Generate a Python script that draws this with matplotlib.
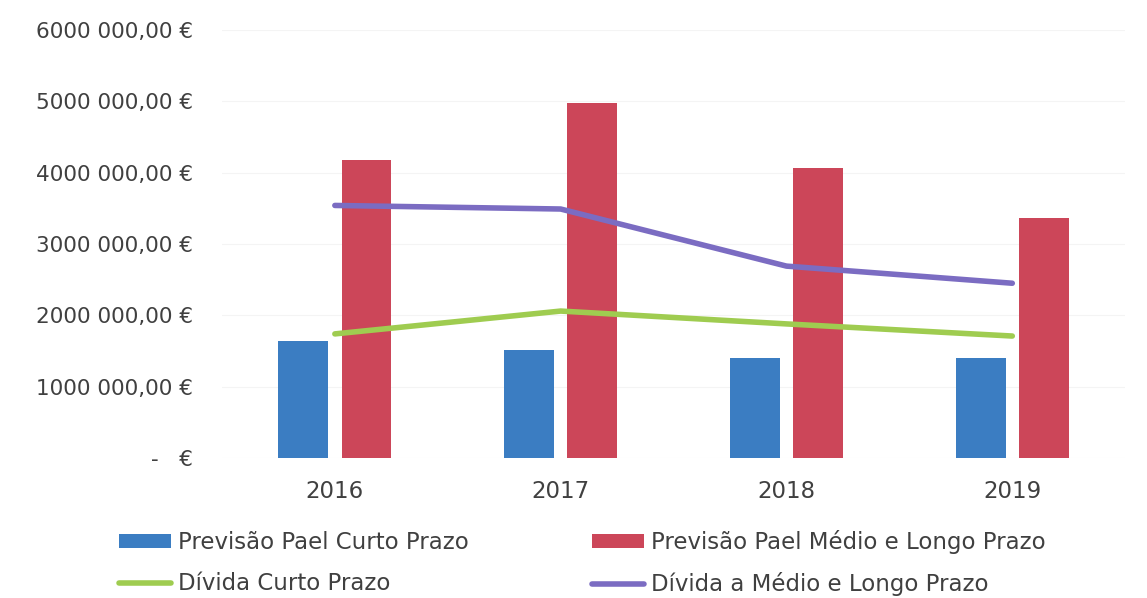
import numpy as np
import matplotlib.pyplot as plt
from matplotlib.ticker import FuncFormatter

# Dados
anos = ["2016", "2017", "2018", "2019"]
pael_curto = [1640000, 1510000, 1400000, 1400000]
pael_medio_longo = [4170000, 4970000, 4070000, 3360000]
divida_curto = [1740000, 2060000, 1880000, 1710000]
divida_medio_longo = [3540000, 3490000, 2690000, 2450000]

c_azul = "#3b7dc2"
c_verm = "#cc4659"
c_verde = "#9fcc50"
c_roxo = "#7b6cc2"
c_texto = "#404040"

plt.rcParams['font.family'] = ['DejaVu Sans']
fs = 15.5

fig = plt.figure(figsize=(11.47, 5.98), dpi=100)
ax = fig.add_axes([0.1935, 0.234, 0.7875, 0.716])

x = np.arange(len(anos))
w = 0.22
b1 = ax.bar(x - 0.14, pael_curto, w, color=c_azul, label="Previsão Pael Curto Prazo")
b2 = ax.bar(x + 0.14, pael_medio_longo, w, color=c_verm, label="Previsão Pael Médio e Longo Prazo")
l1, = ax.plot(x, divida_curto, color=c_verde, lw=4, solid_capstyle='round', label="Dívida Curto Prazo")
l2, = ax.plot(x, divida_medio_longo, color=c_roxo, lw=4, solid_capstyle='round', label="Dívida a Médio e Longo Prazo")

ax.set_xlim(-0.5, len(anos) - 0.5)
ax.set_ylim(0, 6000000)
ax.set_yticks(np.arange(0, 6000001, 1000000))


def fmt_eur(v, pos):
    if v == 0:
        return "-   €"
    s = "{:,.2f}".format(v).replace(",", " ").replace(".", ",")
    s = s.replace(" ", "", 1) if v >= 1000000 else s
    return s + " €"


ax.yaxis.set_major_formatter(FuncFormatter(fmt_eur))
ax.set_xticks(x)
ax.set_xticklabels(anos)
ax.tick_params(axis='both', length=0, labelsize=fs, colors=c_texto)
ax.tick_params(axis='x', pad=16, labelsize=16.5)
ax.tick_params(axis='y', pad=21)
for s in ax.spines.values():
    s.set_visible(False)
ax.grid(axis='y', color="#f4f4f4", lw=0.8)
ax.set_axisbelow(True)

fig.legend(handles=[b1, l1, b2, l2], loc='upper left', bbox_to_anchor=(0.0935, 0.133),
           ncol=2, frameon=False, fontsize=16.5, handlelength=2.27, handleheight=0.6,
           handletextpad=0.3, columnspacing=5.4, labelspacing=0.8, borderpad=0,
           labelcolor=c_texto)

fig.savefig("out.png", dpi=100)
